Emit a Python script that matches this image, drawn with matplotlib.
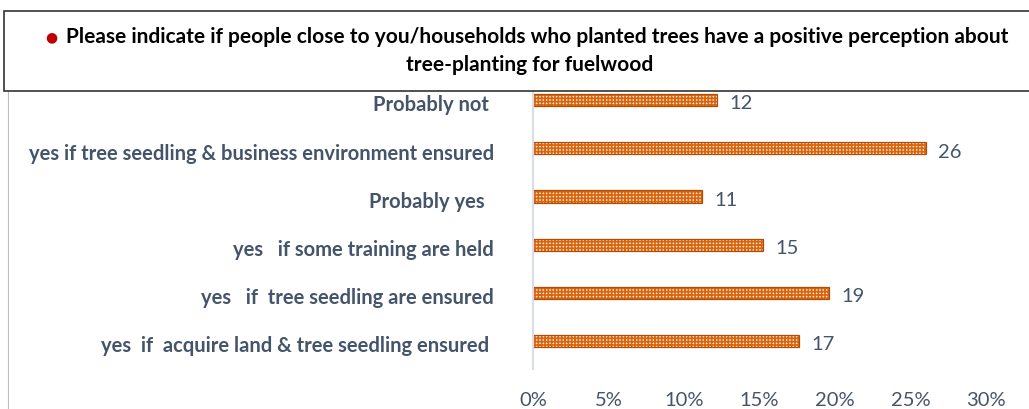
import matplotlib
matplotlib.use("Agg")
import matplotlib.pyplot as plt
from matplotlib.patches import Rectangle
from matplotlib.lines import Line2D

# data (top to bottom as shown)
categories = [
    "Probably not ",
    "yes if tree seedling & business environment ensured",
    "Probably yes  ",
    "yes   if some training are held",
    "yes   if  tree seedling are ensured",
    "yes  if  acquire land & tree seedling ensured ",
]
shares = [12.2, 26.0, 11.2, 15.2, 19.6, 17.6]   # bar length, %
counts = [12, 26, 11, 15, 19, 17]               # data labels
xticks = [0, 5, 10, 15, 20, 25, 30]

title_1 = "Please indicate if people close to you/households who planted trees have a positive perception about"
title_2 = "tree-planting for fuelwood"

TXT = "#44546A"
ORANGE = "#D9660F"
FONT = "Lato"

plt.rcParams["font.family"] = [FONT, "DejaVu Sans"]
plt.rcParams["hatch.color"] = ORANGE
plt.rcParams["hatch.linewidth"] = 1.2

W, H = 1029, 410
fig = plt.figure(figsize=(W / 100, H / 100), dpi=100)

ax = fig.add_axes([533 / W, (H - 370) / H, 453 / W, 278 / H])
pos = list(range(len(categories)))
# brick-like texture: light fill with dense orange grid
ax.barh(pos, shares, height=0.25, color="#FBE6D2", hatch="+++++", linewidth=0)
ax.barh(pos, shares, height=0.25, fill=False, edgecolor="#B04E08", linewidth=0.9)

for y, v, c in zip(pos, shares, counts):
    ax.annotate(str(c), (v, y), xytext=(9, -2), textcoords="offset points",
                va="center", ha="left", fontsize=14.5, color=TXT)

# category labels (drawn as annotations so they sit a little below bar centre)
for y, name in zip(pos, categories):
    ax.annotate(name, (0, y), xycoords=("axes fraction", "data"),
                xytext=(-28, -3), textcoords="offset points",
                va="center", ha="right", fontsize=14.5, fontweight="bold",
                color=TXT)

ax.set_xlim(0, 30)
ax.set_ylim(len(categories) - 0.42, -0.19)
ax.set_yticks([])
ax.set_xticks(xticks)
ax.set_xticklabels([f"{t}%" for t in xticks], fontsize=14.5, color=TXT)
ax.tick_params(axis="x", length=0, pad=16)
for s in ["top", "right", "bottom"]:
    ax.spines[s].set_visible(False)
ax.spines["left"].set_color("#D9DDE6")
ax.spines["left"].set_linewidth(1.5)

# outer frame line on the left
fig.add_artist(Line2D([8 / W, 8 / W], [0, (H - 92) / H], color="#BFBFBF", lw=0.8))

# title box
fig.add_artist(Rectangle((4 / W, (H - 92) / H), 1.0, 80 / H, transform=fig.transFigure,
                         facecolor="white", edgecolor="#333333", lw=1.2, zorder=5))
t1 = fig.text(537 / W, (H - 37) / H, title_1, ha="center", va="center",
              fontsize=15, fontweight="bold", color="black", zorder=6)
fig.text(530 / W, (H - 65) / H, title_2, ha="center", va="center",
         fontsize=15, fontweight="bold", color="black", zorder=6)
r = fig.canvas.get_renderer()
bb = t1.get_window_extent(r)
fig.text((bb.x0 - 14) / W, (H - 37) / H, "●", ha="center", va="center",
         fontsize=10, color="#C00000", zorder=6, family="DejaVu Sans")

fig.savefig("out.png", dpi=100)
